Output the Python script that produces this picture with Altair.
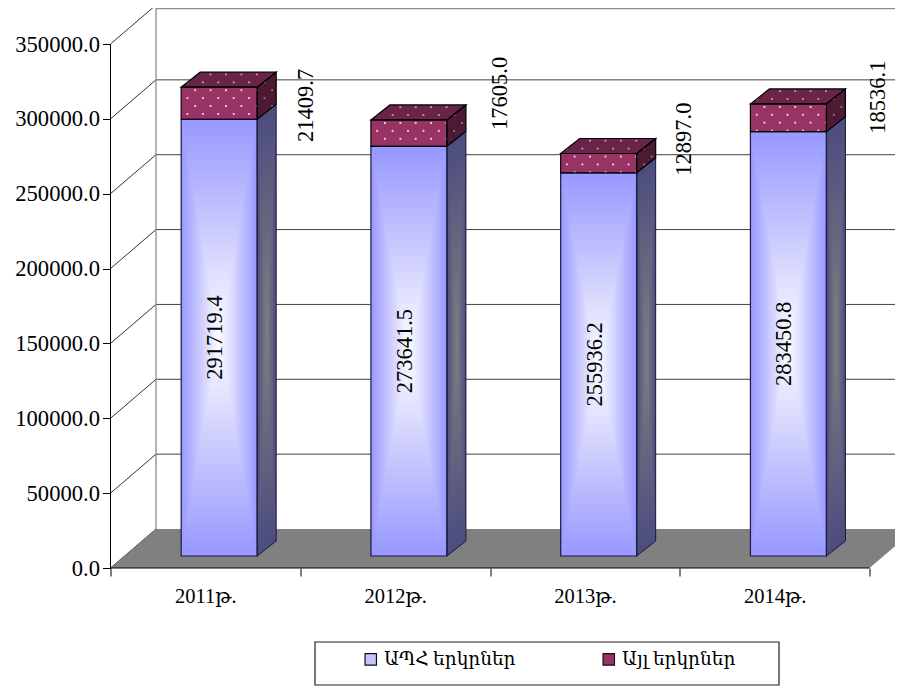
import altair as alt
import pandas as pd

# ---- chart values ----
years = ["2011թ.", "2012թ.", "2013թ.", "2014թ."]
series_names = ["ԱՊՀ երկրներ", "Այլ երկրներ"]
cis_values = [291719.4, 273641.5, 255936.2, 283450.8]
other_values = [21409.7, 17605.0, 12897.0, 18536.1]
y_ticks = [0, 50000, 100000, 150000, 200000, 250000, 300000, 350000]
# where the (hand placed) labels of the second series sit, in axis units
other_label_x = [1.028, 2.055, 3.025, 4.047]
other_label_y = [309000, 317000, 286500, 314500]

# ---- layout: units per pixel of the oblique projection ----
PLOT_W, PLOT_H = 784.5, 560
CAT_PX = 189.75
VAL_PX = 524 / 350000
xu = lambda px: px / CAT_PX
vu = lambda px: px / VAL_PX
FLOOR_DX, FLOOR_DY = xu(45.5), vu(39)
BAR_DX, BAR_DY = xu(19), vu(15)
BAR_W = xu(76)
BAR_SHIFT = xu(13.8)
BASE = vu(12)
BANDS = 26
SERIF = "Liberation Serif, DejaVu Serif, DejaVu Sans"
N = len(years)

xs = alt.Scale(domain=[0, PLOT_W / CAT_PX], nice=False, zero=False)
ys = alt.Scale(domain=[0, PLOT_H / VAL_PX], nice=False, zero=False)

tick_vals = [k / 2 for k in range(2 * N + 1)]
lab_arr = ",".join(["''"] + sum([[f"'{y}'", "''"] for y in years], []))
x_axis = alt.Axis(
    values=tick_vals, title=None, grid=False, domain=False, labelOverlap=False,
    tickSize=8, tickColor="black", labelPadding=10, labelFlush=False,
    tickOpacity=alt.expr("datum.value % 1 === 0 ? 1 : 0"),
    labelExpr=f"[{lab_arr}][datum.value * 2]",
    labelFont=SERIF, labelFontSize=20.5, labelColor="black",
)
y_axis = alt.Axis(
    values=y_ticks, title=None, grid=False, domain=False, format=".1f",
    tickSize=8, tickColor="black", labelPadding=3, labelOverlap=False,
    labelFont=SERIF, labelFontSize=22.6, labelColor="black",
)
X = alt.X("x:Q", scale=xs, axis=x_axis)
Y = alt.Y("y:Q", scale=ys, axis=y_axis)
X2 = alt.X2("x2:Q")
Y2 = alt.Y2("y2:Q")


def mix(c1, c2, t):
    a = [int(c1[i:i + 2], 16) for i in (1, 3, 5)]
    b = [int(c2[i:i + 2], 16) for i in (1, 3, 5)]
    return "#" + "".join(f"{round(p + (q - p) * t):02x}" for p, q in zip(a, b))


def rects(rows, **style):
    return alt.Chart(pd.DataFrame(rows)).mark_rect(**style).encode(x=X, x2=X2, y=Y, y2=Y2)


def shaded_rects(rows):
    return alt.Chart(pd.DataFrame(rows)).mark_rect().encode(
        x=X, x2=X2, y=Y, y2=Y2, fill=alt.Fill("shade:N", scale=None))


def polys(rows, **style):
    return alt.Chart(pd.DataFrame(rows)).mark_area(orient="vertical", **style).encode(
        x=X, y=Y, y2=Y2, detail="id:N")


def shaded_polys(rows):
    return alt.Chart(pd.DataFrame(rows)).mark_area(orient="vertical").encode(
        x=X, y=Y, y2=Y2, detail="id:N", fill=alt.Fill("shade:N", scale=None))


# ---- walls and floor ----
XEND = float(N)
floor_rows = [
    dict(id="f", k=0, x=0, y=0, y2=0),
    dict(id="f", k=1, x=FLOOR_DX, y=FLOOR_DY, y2=0),
    dict(id="f", k=2, x=XEND, y=FLOOR_DY, y2=0),
    dict(id="f", k=3, x=XEND + FLOOR_DX, y=FLOOR_DY, y2=FLOOR_DY),
]
floor = polys(floor_rows, color="#808080", clip=True)

grid = alt.Chart(pd.DataFrame([
    dict(x=FLOOR_DX, x2=XEND + FLOOR_DX, y=v + FLOOR_DY) for v in y_ticks[1:-1]
])).mark_rule(color="#404040", strokeWidth=1, clip=True).encode(x=X, x2=X2, y=Y)
# The reference's top wall edge falls inside the page margin: keep it at the plot's top.
top_edge = alt.Chart(pd.DataFrame([
    dict(x=FLOOR_DX, x2=XEND + FLOOR_DX, y=vu(PLOT_H - 0.7))
])).mark_rule(color="#8c8c8c", strokeWidth=1.3, clip=True).encode(x=X, x2=X2, y=Y)
back_edge = alt.Chart(pd.DataFrame([
    dict(x=FLOOR_DX, y=FLOOR_DY, y2=vu(PLOT_H))
])).mark_rule(color="#8c8c8c", strokeWidth=1.3, clip=True).encode(x=X, y=Y, y2=Y2)

diag_rows = []
for v in y_ticks:
    diag_rows += [dict(id=v, k=0, x=0, y=v), dict(id=v, k=1, x=FLOOR_DX, y=v + FLOOR_DY)]
diagonals = alt.Chart(pd.DataFrame(diag_rows)).mark_line(color="#333333", strokeWidth=1, clip=True).encode(
    x=X, y=Y, detail="id:N", order="k:Q")

axis_y_line = alt.Chart(pd.DataFrame([dict(x=0, y=0, y2=y_ticks[-1])])).mark_rule(
    color="black", strokeWidth=1).encode(x=X, y=Y, y2=Y2)
axis_x_line = alt.Chart(pd.DataFrame([dict(x=0, x2=XEND, y=0)])).mark_rule(
    color="black", strokeWidth=1).encode(x=X, x2=X2, y=Y)

# ---- bars ----
side_bands, front_bands, base_rows, dots = [], [], [], []
blue_out, red_out, red_side, red_top = [], [], [], []
blue_side_out, red_side_out = [], []
labels_in, labels_out = [], []


def side_rows(i, x1, lo, hi, key):
    return [
        dict(id=f"{key}{i}", k=0, x=x1, y=lo, y2=hi),
        dict(id=f"{key}{i}", k=1, x=x1 + BAR_DX, y=lo + BAR_DY, y2=hi + BAR_DY),
    ]


for i in range(N):
    c = i + 0.5 + BAR_SHIFT
    x0, x1 = c - BAR_W / 2, c + BAR_W / 2
    b0, b1 = BASE, BASE + cis_values[i]
    r1 = b1 + other_values[i]
    mid = (b0 + b1) / 2
    half = (b1 - b0) / 2

    base_rows.append(dict(x=x0, x2=x1, y=b0, y2=b1, series=series_names[0]))
    base_rows.append(dict(x=x0, x2=x1, y=b1, y2=r1, series=series_names[1]))

    for n in range(BANDS):
        t = n / BANDS
        front_bands.append(dict(
            x=c - BAR_W / 2 * (1 - t), x2=c + BAR_W / 2 * (1 - t),
            y=mid - half * (1 - t), y2=mid + half * (1 - t),
            shade=mix("#9999ff", "#ffffff", t),
        ))
        s0, s1 = t / 2, 1 - t / 2
        lo, hi = b0 + t * half, b1 - t * half
        side_bands += [
            dict(id=f"{i}-{n}", k=0, x=x1 + s0 * BAR_DX, y=lo + s0 * BAR_DY, y2=hi + s0 * BAR_DY,
                 shade=mix("#4d4d80", "#808080", t)),
            dict(id=f"{i}-{n}", k=1, x=x1 + s1 * BAR_DX, y=lo + s1 * BAR_DY, y2=hi + s1 * BAR_DY,
                 shade=mix("#4d4d80", "#808080", t)),
        ]

    blue_side_out += side_rows(i, x1, b0, b1, "bs")
    blue_out.append(dict(x=x0, x2=x1, y=b0, y2=b1))
    red_side += side_rows(i, x1, b1, r1, "rs")
    red_side_out += side_rows(i, x1, b1, r1, "rs")
    red_out.append(dict(x=x0, x2=x1, y=b1, y2=r1))
    red_top += [
        dict(id=f"t{i}", k=0, x=x0, y=r1, y2=r1),
        dict(id=f"t{i}", k=1, x=x0 + BAR_DX, y=r1 + BAR_DY, y2=r1),
        dict(id=f"t{i}", k=2, x=x1, y=r1 + BAR_DY, y2=r1),
        dict(id=f"t{i}", k=3, x=x1 + BAR_DX, y=r1 + BAR_DY, y2=r1 + BAR_DY),
    ]

    # dotted fill texture, a lattice anchored on the bar's front top-left corner
    step_x, step_y = xu(15.4), vu(7.9)
    for row in range(-3, 12):
        yy = r1 - vu(3) - row * step_y
        off = 0 if row % 2 == 0 else -step_x / 2
        for col in range(-1, 7):
            xx = x0 + xu(14) + col * step_x + off
            if x0 < xx < x1 and b1 < yy < r1:
                dots.append(dict(x=xx, y=yy, op=0.8))
            elif x1 < xx < x1 + BAR_DX:
                s = (xx - x1) / BAR_DX
                if b1 + s * BAR_DY < yy < r1 + s * BAR_DY:
                    dots.append(dict(x=xx, y=yy, op=0.4))
            elif r1 < yy < r1 + BAR_DY:
                s = (yy - r1) / BAR_DY
                if x0 + s * BAR_DX < xx < x1 + s * BAR_DX:
                    dots.append(dict(x=xx, y=yy, op=0.55))

    labels_in.append(dict(x=c - xu(4), y=mid, t=f"{cis_values[i]:.1f}"))
    labels_out.append(dict(x=other_label_x[i], y=other_label_y[i], t=f"{other_values[i]:.1f}"))

base = rects(base_rows).encode(color=alt.Color(
    "series:N",
    scale=alt.Scale(domain=series_names, range=["#c4c4ff", "#993366"]),
    legend=alt.Legend(
        title=None, orient="none", legendX=243, legendY=634, direction="horizontal",
        columns=2, columnPadding=84, padding=8, symbolType="square", symbolSize=130,
        symbolStrokeColor="#111111", symbolStrokeWidth=1.2, symbolOpacity=1,
        labelFont=SERIF, labelFontSize=18.5, labelColor="black", labelLimit=200,
        symbolOffset=0,
    ),
))
legend_box = alt.Chart(pd.DataFrame([dict(a=1)])).mark_rect(
    fill="white", stroke="#222222", strokeWidth=1.2, clip=False
).encode(
    x=alt.value(204.5), x2=alt.value(668.5), y=alt.value(634), y2=alt.value(677)
)

blue_side_outline = polys(blue_side_out, fillOpacity=0, color="#1a1a40", stroke="#1a1a40", strokeWidth=1)
blue_outline = rects(blue_out, fillOpacity=0, stroke="#1a1a40", strokeWidth=1.2)
red_side_face = polys(red_side, color="#4d1a33")
red_top_face = polys(red_top, color="#6b2447")
red_side_outline = polys(red_side_out, fillOpacity=0, color="black", stroke="black", strokeWidth=1.2)
red_top_outline = polys(red_top, fillOpacity=0, color="black", stroke="black", strokeWidth=1.2)
red_outline = rects(red_out, fillOpacity=0, stroke="black", strokeWidth=1.2)

dot_layer = alt.Chart(pd.DataFrame(dots)).mark_point(
    filled=True, shape="square", size=3.5, color="white"
).encode(x=X, y=Y, opacity=alt.Opacity("op:Q", scale=None))

text_style = dict(font=SERIF, fontSize=22.5, angle=270, align="center", baseline="middle", color="black")
text_in = alt.Chart(pd.DataFrame(labels_in)).mark_text(**text_style).encode(x=X, y=Y, text="t:N")
text_out = alt.Chart(pd.DataFrame(labels_out)).mark_text(**text_style).encode(x=X, y=Y, text="t:N")

chart = alt.layer(
    diagonals, grid, top_edge, back_edge, floor, axis_y_line, axis_x_line,
    shaded_polys(side_bands), legend_box, base, shaded_rects(front_bands),
    blue_side_outline, blue_outline,
    red_side_face, red_top_face, dot_layer,
    red_side_outline, red_top_outline, red_outline,
    text_in, text_out,
).properties(
    width=PLOT_W, height=PLOT_H,
    autosize=alt.AutoSizeParams(type="none"),
    padding={"left": 102.5, "top": 0, "right": 0, "bottom": 119},
).configure_view(stroke=None)

chart.save("out.html", embed_options={"renderer": "svg", "actions": False})
